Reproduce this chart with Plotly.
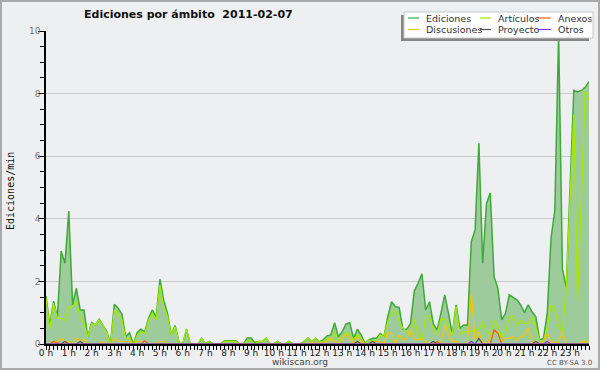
import plotly.graph_objects as go

# ---------------- data (10-minute resolution, 2011-02-07) ----------------
minutes = list(range(0, 1440, 10))

ediciones = [
    1.53, 0.60, 1.37, 0.87, 2.97, 2.58, 4.25, 1.25, 1.78, 1.09, 1.09, 0.23,
    0.69, 0.60, 0.79, 0.60, 0.40, 0.02, 1.27, 1.14, 0.96, 0.23, 0.36, 0.00,
    0.36, 0.47, 0.39, 0.82, 1.09, 0.85, 2.07, 1.40, 0.98, 0.29, 0.59, 0.07,
    0.00, 0.47, 0.00, 0.00, 0.00, 0.18, 0.00, 0.08, 0.00, 0.00, 0.00, 0.10,
    0.10, 0.10, 0.10, 0.00, 0.00, 0.19, 0.19, 0.05, 0.08, 0.08, 0.19, 0.00,
    0.00, 0.08, 0.00, 0.00, 0.08, 0.00, 0.00, 0.00, 0.08, 0.19, 0.07, 0.18,
    0.07, 0.13, 0.26, 0.29, 0.68, 0.23, 0.39, 0.64, 0.68, 0.18, 0.47, 0.29,
    0.02, 0.13, 0.18, 0.18, 0.34, 0.23, 0.87, 1.35, 1.19, 1.17, 0.47, 0.47,
    0.66, 1.70, 1.94, 2.24, 1.09, 1.35, 0.64, 0.45, 0.98, 1.57, 0.98, 0.32,
    1.25, 0.50, 0.61, 0.61, 3.27, 3.64, 6.41, 2.58, 4.49, 4.83, 2.15, 1.78,
    0.77, 0.98, 1.57, 1.49, 1.41, 1.25, 1.00, 1.25, 1.03, 0.87, 0.13, 0.18,
    0.98, 3.38, 4.28, 9.90, 2.40, 1.80, 5.00, 8.10, 8.05, 8.10, 8.20, 8.38,
]

articulos = [
    1.45, 0.48, 1.30, 0.82, 0.82, 0.75, 1.17, 1.19, 1.35, 0.87, 0.66, 0.23,
    0.66, 0.60, 0.77, 0.60, 0.35, 0.00, 1.09, 0.96, 0.77, 0.18, 0.18, 0.00,
    0.27, 0.40, 0.34, 0.77, 0.98, 0.77, 1.88, 1.19, 0.87, 0.29, 0.55, 0.07,
    0.00, 0.47, 0.00, 0.00, 0.00, 0.18, 0.00, 0.08, 0.00, 0.00, 0.00, 0.08,
    0.08, 0.08, 0.08, 0.00, 0.00, 0.10, 0.10, 0.00, 0.08, 0.08, 0.19, 0.00,
    0.00, 0.08, 0.00, 0.00, 0.08, 0.00, 0.00, 0.00, 0.08, 0.19, 0.07, 0.18,
    0.07, 0.07, 0.18, 0.10, 0.39, 0.13, 0.18, 0.37, 0.34, 0.13, 0.30, 0.18,
    0.00, 0.13, 0.07, 0.10, 0.29, 0.23, 0.71, 0.98, 1.09, 0.71, 0.50, 0.39,
    0.34, 0.79, 0.29, 0.13, 0.89, 0.89, 0.45, 0.29, 0.79, 0.79, 0.55, 0.29,
    1.19, 0.29, 0.39, 0.39, 0.40, 0.45, 0.45, 0.72, 0.40, 0.30, 0.75, 0.60,
    0.20, 0.35, 0.85, 0.90, 0.60, 0.75, 0.65, 0.65, 0.85, 0.55, 0.10, 0.07,
    0.55, 1.25, 1.10, 0.55, 0.40, 1.80, 4.60, 7.32, 1.35, 4.73, 8.10, 7.80,
]

discusiones = [
    0.00, 0.00, 0.05, 0.08, 0.18, 0.05, 0.08, 0.00, 0.18, 0.08, 0.15, 0.00,
    0.00, 0.00, 0.00, 0.08, 0.00, 0.00, 0.18, 0.08, 0.08, 0.08, 0.08, 0.00,
    0.08, 0.08, 0.00, 0.00, 0.00, 0.00, 0.08, 0.08, 0.00, 0.00, 0.00, 0.00,
    0.00, 0.00, 0.00, 0.00, 0.00, 0.00, 0.00, 0.00, 0.00, 0.00, 0.00, 0.00,
    0.00, 0.00, 0.00, 0.00, 0.00, 0.00, 0.00, 0.00, 0.00, 0.00, 0.00, 0.00,
    0.00, 0.00, 0.00, 0.00, 0.00, 0.00, 0.00, 0.00, 0.00, 0.00, 0.05, 0.00,
    0.05, 0.00, 0.08, 0.18, 0.08, 0.00, 0.18, 0.29, 0.18, 0.00, 0.23, 0.08,
    0.00, 0.00, 0.00, 0.08, 0.08, 0.00, 0.39, 0.34, 0.00, 0.29, 0.13, 0.18,
    0.45, 0.18, 0.13, 0.18, 0.07, 0.00, 0.05, 0.00, 0.07, 0.61, 0.29, 0.07,
    0.10, 0.00, 0.00, 0.05, 1.60, 0.13, 0.39, 0.07, 0.00, 0.18, 0.39, 0.39,
    0.07, 0.18, 0.18, 0.23, 0.13, 0.23, 0.29, 0.50, 0.07, 0.07, 0.00, 0.07,
    0.34, 0.05, 0.07, 0.07, 0.39, 0.03, 0.00, 0.00, 0.00, 0.07, 0.07, 0.07,
]

anexos = [0.0] * 144
for i, v in [(2, 0.08), (3, 0.05), (26, 0.10), (103, 0.07), (118, 0.45), (119, 0.35)]:
    anexos[i] = v

proyecto = [0.0] * 144
for i, v in [(5, 0.08), (9, 0.08), (82, 0.08), (86, 0.08), (102, 0.08), (114, 0.18), (129, 0.08)]:
    proyecto[i] = v

otros = [0.0] * 144
for i, v in [(112, 0.08), (132, 0.08)]:
    otros[i] = v

hour_ticks = list(range(24))
hour_labels = ["0 h", "1 h", "2 h", "3 h", "4 h", "5 h", "6 h", "7 h", "8 h", "9 h",
               "10 h", "11 h", "12 h", "13 h", "14 h", "15 h", "16 h", "17 h",
               "18 h", "19 h", "20 h", "21 h", "22 h", "23 h"]

series_names = ["Ediciones", "Artículos", "Anexos", "Discusiones", "Proyecto", "Otros"]
colors = {
    "Ediciones": "#3cab37",
    "Artículos": "#a6e800",
    "Anexos": "#f05a24",
    "Discusiones": "#f8c300",
    "Proyecto": "#555555",
    "Otros": "#8a3df0",
}

# ---------------- layout helpers ----------------
W, H = 600, 370
L, R, T, B = 46, 11, 31, 26
PW, PH = W - L - R, H - T - B


def px(x):
    return (x - L) / PW


def py(y):
    return (H - B - y) / PH


hours = [m / 60 for m in minutes]

fig = go.Figure()
fig.add_trace(go.Scatter(
    x=hours, y=ediciones, name="Ediciones", mode="lines",
    line=dict(color=colors["Ediciones"], width=1.5),
    fill="tozeroy", fillcolor="#9dcb9c"))
fig.add_trace(go.Scatter(x=hours, y=articulos, name="Artículos", mode="lines",
                         line=dict(color=colors["Artículos"], width=1.3)))
fig.add_trace(go.Scatter(x=hours, y=discusiones, name="Discusiones", mode="lines",
                         line=dict(color=colors["Discusiones"], width=1.2)))
fig.add_trace(go.Scatter(x=hours, y=anexos, name="Anexos", mode="lines",
                         line=dict(color=colors["Anexos"], width=1.2)))
fig.add_trace(go.Scatter(x=hours, y=proyecto, name="Proyecto", mode="lines",
                         line=dict(color=colors["Proyecto"], width=1.2)))
fig.add_trace(go.Scatter(x=hours, y=otros, name="Otros", mode="lines",
                         line=dict(color=colors["Otros"], width=1.2)))

fig.update_layout(
    width=W, height=H,
    autosize=False,
    margin=dict(l=L, r=R, t=T, b=B, pad=0, autoexpand=False),
    paper_bgcolor="#eeeff1", plot_bgcolor="#eeeff1",
    showlegend=False,
    xaxis=dict(
        automargin=False,
        range=[0, minutes[-1] / 60], tickmode="array",
        tickvals=hour_ticks, ticktext=hour_labels, tickangle=0,
        ticks="outside", ticklen=4, tickwidth=1, tickcolor="black",
        ticklabelstandoff=-5,
        showline=True, linecolor="black", linewidth=1.5,
        showgrid=False, zeroline=False,
        tickfont=dict(family="DejaVu Sans", size=9, color="#222"),
        minor=dict(dtick=1 / 6, tick0=0, ticks="outside", ticklen=4,
                   tickcolor="black", showgrid=False),
    ),
    yaxis=dict(
        automargin=False,
        range=[0, 10], tick0=0, dtick=2,
        ticks="outside", ticklen=6, tickwidth=1, tickcolor="black",
        ticklabelstandoff=-4,
        showline=True, linecolor="black", linewidth=1.5,
        gridcolor="#cacaca", gridwidth=1, zeroline=False,
        tickfont=dict(family="DejaVu Sans", size=9, color="#777"),
        minor=dict(dtick=0.5, ticks="outside", ticklen=4, tickcolor="black",
                   showgrid=False),
    ),
)

shapes = [
    # outer frame
    dict(type="rect", xref="paper", yref="paper", x0=px(1), x1=px(599),
         y0=py(369), y1=py(1), line=dict(color="#a9a9a9", width=2), layer="above"),
    # legend shadow and box
    dict(type="rect", xref="paper", yref="paper", x0=px(401), x1=px(589),
         y0=py(41), y1=py(15), fillcolor="#858585", line=dict(width=0), layer="above"),
    dict(type="rect", xref="paper", yref="paper", x0=px(404), x1=px(593),
         y0=py(38), y1=py(12), fillcolor="white", line=dict(color="#c8c8c8", width=1),
         layer="above"),
]

annotations = [
    dict(text="<b>Ediciones por ámbito\u00a0\u00a02011-02-07</b>", x=px(188.5), y=py(14.5),
         xref="paper", yref="paper", showarrow=False, xanchor="center", yanchor="middle",
         font=dict(family="DejaVu Sans", size=11, color="#111")),
    dict(text="Ediciones/min", x=px(10), y=py(191), xref="paper", yref="paper",
         showarrow=False, textangle=-90, xanchor="center", yanchor="middle",
         font=dict(family="DejaVu Sans Mono", size=10, color="#111")),
    dict(text="wikiscan.org", x=px(300), y=py(362), xref="paper", yref="paper",
         showarrow=False, xanchor="center", yanchor="middle",
         font=dict(family="DejaVu Sans", size=9, color="#444")),
    dict(text="CC BY-SA 3.0", x=px(569), y=py(363), xref="paper", yref="paper",
         showarrow=False, xanchor="center", yanchor="middle",
         font=dict(family="DejaVu Sans", size=7, color="#555")),
]

# custom 3-column legend
legend_cols = [(408, 419, 424), (480, 491, 496), (538, 551, 555.5)]
legend_rows = [18, 29.5]
for k, name in enumerate(series_names):
    r, c = divmod(k, 3)
    x0, x1, xt = legend_cols[c]
    yy = legend_rows[r]
    shapes.append(dict(type="line", xref="paper", yref="paper", x0=px(x0), x1=px(x1),
                       y0=py(yy), y1=py(yy), line=dict(color=colors[name], width=1.2),
                       layer="above"))
    annotations.append(dict(text=name, x=px(xt), y=py(yy), xref="paper", yref="paper",
                            showarrow=False, xanchor="left", yanchor="middle",
                            font=dict(family="DejaVu Sans", size=9.5, color="#333")))

fig.update_layout(shapes=shapes, annotations=annotations)

fig.write_html(
    "out.html",
    config={"displayModeBar": False, "responsive": False},
    post_script="document.body.style.margin='0';document.body.style.overflow='hidden';",
)
